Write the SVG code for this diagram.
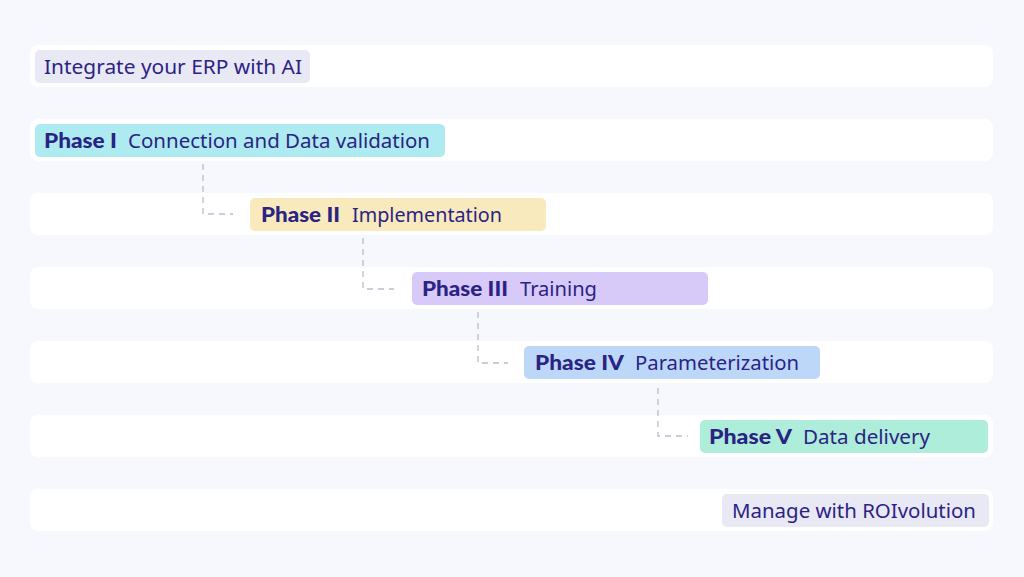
<svg xmlns="http://www.w3.org/2000/svg" width="1024" height="577" viewBox="0 0 1024 577">
<style>
.row{fill:#ffffff}
.lbl{font-family:"Noto Sans","Open Sans",sans-serif;font-size:20px;fill:#2b2384}
.b{font-family:Lato,"Noto Sans",sans-serif;font-weight:900;font-size:21px}
.conn{fill:none;stroke:#b9bccb;stroke-width:1.3;stroke-dasharray:6 5}
</style>
<rect width="1024" height="577" fill="#f7f8fd"/>
<g id="rows">
<rect class="row" x="30" y="45" width="963" height="42" rx="8"/>
<rect class="row" x="30" y="119" width="963" height="42" rx="8"/>
<rect class="row" x="30" y="193" width="963" height="42" rx="8"/>
<rect class="row" x="30" y="267" width="963" height="42" rx="8"/>
<rect class="row" x="30" y="341" width="963" height="42" rx="8"/>
<rect class="row" x="30" y="415" width="963" height="42" rx="8"/>
<rect class="row" x="30" y="489" width="963" height="42" rx="8"/>
</g>
<g id="connectors">
<path class="conn" d="M203 164 V214 H233"/>
<path class="conn" d="M363 238 V289 H394"/>
<path class="conn" d="M478 312 V363 H508"/>
<path class="conn" d="M658 388 V436 H688"/>
</g>
<g id="start">
<rect x="35" y="50" width="275" height="33" rx="5" fill="#e9e9f6"/>
<text class="lbl" x="44" y="73.5" textLength="258" lengthAdjust="spacingAndGlyphs">Integrate your ERP with AI</text>
</g>
<g id="phase1">
<rect x="35" y="124" width="410" height="33" rx="5" fill="#aeebf0"/>
<text class="lbl b" x="44" y="147.5" textLength="73" lengthAdjust="spacingAndGlyphs">Phase I</text>
<text class="lbl" x="128" y="147.5" textLength="302" lengthAdjust="spacingAndGlyphs">Connection and Data validation</text>
</g>
<g id="phase2">
<rect x="250" y="198" width="296" height="33" rx="5" fill="#f8eabc"/>
<text class="lbl b" x="261" y="221.5" textLength="79" lengthAdjust="spacingAndGlyphs">Phase II</text>
<text class="lbl" x="352" y="221.5" textLength="150" lengthAdjust="spacingAndGlyphs">Implementation</text>
</g>
<g id="phase3">
<rect x="412" y="272" width="296" height="33" rx="5" fill="#d7c9f8"/>
<text class="lbl b" x="422" y="295.5" textLength="86" lengthAdjust="spacingAndGlyphs">Phase III</text>
<text class="lbl" x="520" y="295.5" textLength="77" lengthAdjust="spacingAndGlyphs">Training</text>
</g>
<g id="phase4">
<rect x="524" y="346" width="296" height="33" rx="5" fill="#bdd7f8"/>
<text class="lbl b" x="535" y="369.5" textLength="89" lengthAdjust="spacingAndGlyphs">Phase IV</text>
<text class="lbl" x="635" y="369.5" textLength="164" lengthAdjust="spacingAndGlyphs">Parameterization</text>
</g>
<g id="phase5">
<rect x="700" y="420" width="288" height="33" rx="5" fill="#aeedd9"/>
<text class="lbl b" x="709" y="443.5" textLength="83" lengthAdjust="spacingAndGlyphs">Phase V</text>
<text class="lbl" x="803" y="443.5" textLength="127" lengthAdjust="spacingAndGlyphs">Data delivery</text>
</g>
<g id="end">
<rect x="722" y="494" width="267" height="33" rx="5" fill="#e9e9f6"/>
<text class="lbl" x="732" y="517.5" textLength="244" lengthAdjust="spacingAndGlyphs">Manage with ROIvolution</text>
</g>
</svg>
